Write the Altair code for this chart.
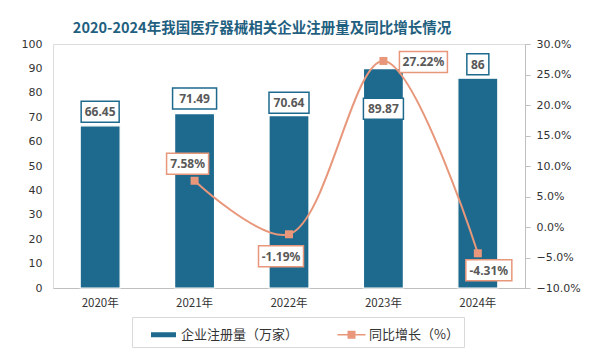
import altair as alt
import pandas as pd

# ---------------- data ----------------
years = ["2020年", "2021年", "2022年", "2023年", "2024年"]
counts = [66.45, 71.49, 70.64, 89.87, 86]
count_labels = ["66.45", "71.49", "70.64", "89.87", "86"]
growth_years = ["2021年", "2022年", "2023年", "2024年"]
growth = [7.58, -1.19, 27.22, -4.31]
growth_labels = ["7.58%", "-1.19%", "27.22%", "-4.31%"]
series = ["企业注册量（万家）", "同比增长（%）"]

# ---------------- style ----------------
TEAL = "#1e6a8e"
SALMON = "#e8977b"
TXT = "#595959"
# label placement (pixel offsets) and box widths
count_offsets = [(0, -14), (0, -15), (0, -13), (0, 40), (0, -14)]
count_box_w = [38, 44, 40, 40, 22]
growth_offsets = [(-7, -17), (-8, 22), (40, 1), (11, 17)]
growth_box_w = [42, 45, 48, 46]
BOX_H = 21

df_bar = pd.DataFrame({"year": years, "count": counts, "label": count_labels})
df_line = pd.DataFrame({"year": growth_years,
                        "growth": [g / 100 for g in growth],
                        "label": growth_labels,
                        "series": series[1]})

x_enc = alt.X("year:N", sort=years,
              scale=alt.Scale(paddingInner=0.577, paddingOuter=0.288),
              axis=alt.Axis(title=None, labelAngle=0, ticks=False, domainColor="#bfbfbf",
                            labelPadding=9, labelFont="Noto Sans CJK SC", labelFontSize=11.5,
                            labelColor="#333333"))

y_left = alt.Y("count:Q", scale=alt.Scale(domain=[0, 100], nice=False),
               axis=alt.Axis(title=None, values=list(range(0, 101, 10)), domain=False,
                             ticks=False, grid=False, labelPadding=11, minExtent=45,
                             labelFont="DejaVu Sans", labelFontSize=11, labelColor="#333333"))

y_right = alt.Y("growth:Q", scale=alt.Scale(domain=[-0.10, 0.30], nice=False),
                axis=alt.Axis(title=None, orient="right", format=".1%",
                              values=[-0.10, -0.05, 0, 0.05, 0.10, 0.15, 0.20, 0.25, 0.30],
                              domain=True, domainColor="#bfbfbf", ticks=True, tickColor="#bfbfbf",
                              tickSize=5, grid=False, labelPadding=6,
                              labelFont="DejaVu Sans", labelFontSize=11, labelColor="#333333"))


def box_path(w):
    k = BOX_H / w
    return f"M-1,-{k:.4f}H1V{k:.4f}H-1Z"


def label_layers(df, y_enc, offsets, widths, border):
    layers = []
    for i in range(len(df)):
        dx, dy = offsets[i]
        w = widths[i]
        sub = alt.Chart(df).transform_filter(alt.datum.label == df["label"].iloc[i])
        layers.append(sub.mark_point(shape=box_path(w), size=w * w, filled=True, fill="white",
                                     stroke=border, strokeWidth=1.5, opacity=1,
                                     xOffset=dx, yOffset=dy)
                      .encode(x=x_enc, y=y_enc))
        layers.append(sub.mark_text(font="Noto Sans", fontSize=12, fontWeight="bold", color=TXT,
                                    align="center", baseline="middle", xOffset=dx, yOffset=dy + 0.5)
                      .encode(x=x_enc, y=y_enc, text="label:N"))
    return layers


bars = alt.Chart(df_bar).mark_bar(color=TEAL, stroke="white", strokeWidth=1.2).encode(x=x_enc, y=y_left)
bar_group = alt.layer(bars, *label_layers(df_bar, y_left, count_offsets, count_box_w, TEAL))

line = alt.Chart(df_line).mark_line(color=SALMON, strokeWidth=2, interpolate="catmull-rom").encode(
    x=x_enc, y=y_right)
pts = alt.Chart(df_line).mark_point(shape="square", filled=True, size=64, color=SALMON, opacity=1).encode(
    x=x_enc, y=y_right)

bar_sym = "M-1,-0.2H1V0.2H-1Z"
line_sym = "M-1.12,-0.06H1.12V0.06H-1.12Z M-0.32,-0.32H0.32V0.32H-0.32Z"
leg = alt.Legend(title=None, orient="none", legendX=79, legendY=273, direction="horizontal",
                 strokeColor="#d9d9d9", padding=5, symbolSize=625, symbolStrokeWidth=0,
                 symbolOpacity=1, columnPadding=26, labelOffset=5, symbolOffset=14,
                 labelFont="Noto Sans CJK SC", labelFontSize=13, labelColor="#333333", labelLimit=300)
legend_layer = alt.Chart(df_line).transform_filter(alt.datum.year == "none").mark_point(
    filled=True, opacity=1).encode(
    x=x_enc, y=y_right,
    color=alt.Color("series:N", scale=alt.Scale(domain=series, range=[TEAL, SALMON]), legend=leg),
    shape=alt.Shape("series:N", scale=alt.Scale(domain=series, range=[bar_sym, line_sym]), legend=leg))

line_group = alt.layer(line, pts, legend_layer,
                       *label_layers(df_line, y_right, growth_offsets, growth_box_w, SALMON))

chart = alt.layer(bar_group, line_group).resolve_scale(y="independent").properties(
    width=472, height=244,
    padding={"left": 0, "top": 12, "right": 0, "bottom": 0},
    title=alt.TitleParams("2020-2024年我国医疗器械相关企业注册量及同比增长情况",
                          font="Noto Sans CJK SC", fontSize=14.5, fontWeight="bold",
                          color="#1f5f80", anchor="middle", dx=-27, offset=2),
).configure_view(stroke=None, fill="#efefef").configure(background="white")

chart.save("out.html", embed_options={"renderer": "svg", "actions": False})
